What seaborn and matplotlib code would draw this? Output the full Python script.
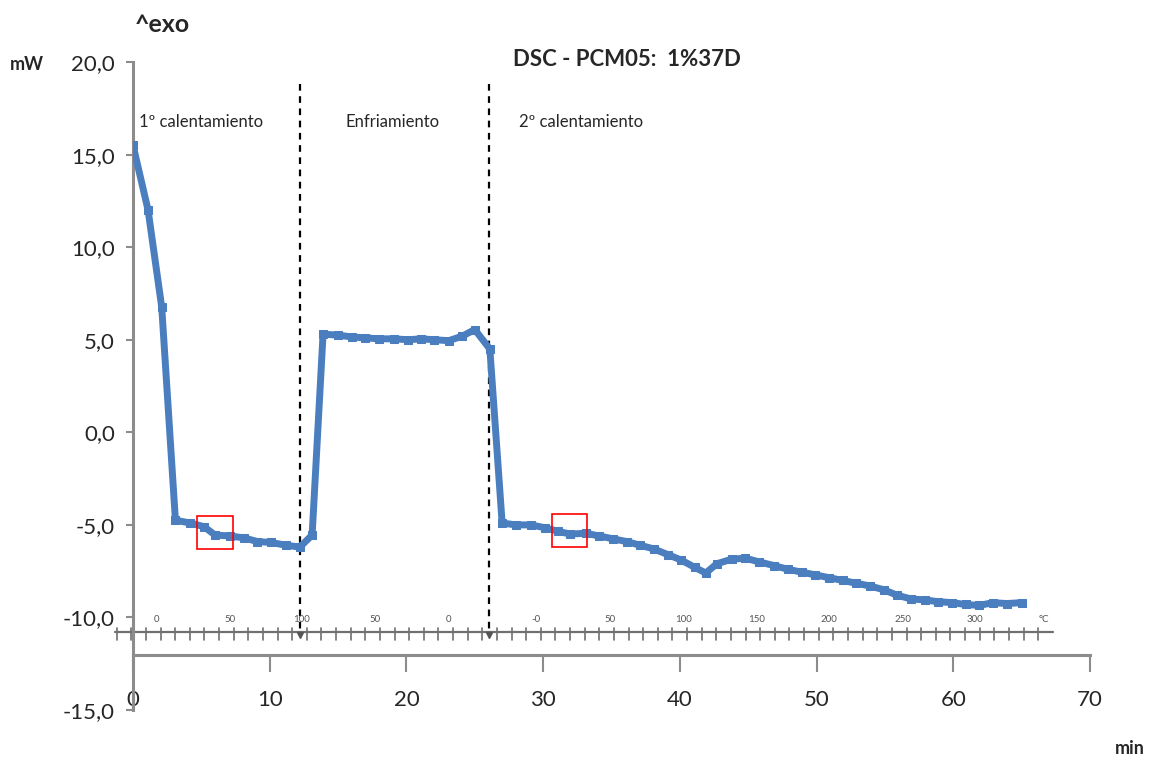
import numpy as np
import pandas as pd
import matplotlib
matplotlib.use("Agg")
import matplotlib.pyplot as plt
import matplotlib.patches as mpatches
from matplotlib.ticker import FuncFormatter
import seaborn as sns

# ---- data ----
time_min = [0.0, 1.1, 2.1, 3.1, 4.2, 5.2, 6.0, 7.1, 8.1, 9.1, 10.1, 11.2, 12.2,
            13.1, 13.9, 15.0, 16.0, 17.0, 18.0, 19.1, 20.1, 21.1, 22.0, 23.1,
            24.1, 25.0, 26.1, 27.0, 28.0, 29.1, 30.1, 31.1, 32.0, 33.1, 34.1,
            35.1, 36.1, 37.1, 38.1, 39.1, 40.1, 41.1, 41.9, 42.7, 43.8, 44.8,
            45.8, 46.9, 47.9, 48.9, 49.9, 50.9, 51.9, 52.9, 53.9, 54.9, 55.9,
            56.9, 57.9, 58.9, 59.9, 60.9, 61.9, 62.9, 63.9, 65.0]
heat_flow_mW = [15.5, 12.0, 6.75, -4.75, -4.9, -5.1, -5.55, -5.6, -5.7, -5.9,
                -5.95, -6.1, -6.2, -5.55, 5.3, 5.25, 5.15, 5.1, 5.05, 5.05, 5.0,
                5.05, 5.0, 4.95, 5.2, 5.55, 4.5, -4.9, -5.0, -5.0, -5.15, -5.35,
                -5.5, -5.45, -5.6, -5.75, -5.9, -6.1, -6.3, -6.6, -6.9, -7.3,
                -7.6, -7.1, -6.85, -6.8, -7.0, -7.2, -7.4, -7.55, -7.7, -7.85,
                -8.0, -8.15, -8.3, -8.5, -8.8, -9.0, -9.05, -9.15, -9.2, -9.3,
                -9.35, -9.2, -9.25, -9.2]

y_ticks = [-15, -10, -5, 0, 5, 10, 15, 20]
x_ticks = [0, 10, 20, 30, 40, 50, 60, 70]
phase_bounds = [12.2, 26.05]
phase_labels = ["1º calentamiento", "Enfriamiento", "2º calentamiento"]
temp_labels = ["0", "50", "100", "50", "0", "-0", "50", "100", "150", "200",
               "250", "300", "°C"]
temp_label_pos = [1.75, 7.1, 12.3, 17.7, 23.1, 29.5, 34.9, 40.3, 45.6, 50.9,
                  56.3, 61.6, 66.6]

df = pd.DataFrame({"min": time_min, "mW": heat_flow_mW})

sns.set_style("white")
plt.rcParams["font.family"] = ["Lato", "DejaVu Sans"]

fig = plt.figure(figsize=(11.68, 7.62), dpi=100)
ax = fig.add_axes([0.1139, 0.0682, 0.8193, 0.8504])

blue = "#4A7EBF"
sns.lineplot(data=df, x="min", y="mW", ax=ax, color=blue, linewidth=5,
             marker="s", markersize=6, markeredgecolor=blue,
             markerfacecolor=blue, zorder=3)

ax.set_xlim(0, 70)
ax.set_ylim(-15, 20)
ax.set_xticks(x_ticks)
ax.set_yticks(y_ticks)
ax.yaxis.set_major_formatter(FuncFormatter(lambda v, p: f"{v:.1f}".replace(".", ",")))
ax.set_xlabel("")
ax.set_ylabel("")

for s in ["top", "right"]:
    ax.spines[s].set_visible(False)
ax.spines["bottom"].set_position(("data", -12.05))
ax.spines["bottom"].set_bounds(0, 70)
ax.spines["left"].set_bounds(-15, 20)
for s in ["bottom", "left"]:
    ax.spines[s].set_color("#8C8C8C")
    ax.spines[s].set_linewidth(2.2)

ax.tick_params(axis="x", direction="out", length=12, width=1.5, color="#8C8C8C",
               labelsize=16, pad=13, bottom=True)
ax.tick_params(axis="y", direction="out", length=5, width=1.5, color="#8C8C8C",
               labelsize=16, pad=8, left=True)

# temperature sub-axis (embedded scale)
ax.plot([-1.3, 67.3], [-10.8, -10.8], color="#707070", lw=1.6, clip_on=False, zorder=2)
minor = np.arange(-1.2, 67.0, 1.07)
for m in minor:
    ax.plot([m, m], [-10.55, -11.2], color="#707070", lw=1.2, clip_on=False, zorder=2)
for lab, pos in zip(temp_labels, temp_label_pos):
    ax.text(pos, -10.1, lab, fontsize=7, color="#555555", ha="center", va="center")

# phase separators
for xb in phase_bounds:
    ax.plot([xb, xb], [18.8, -10.8], color="black", lw=1.6, ls=(0, (3, 2.5)), zorder=2)
    ax.plot(xb, -10.95, marker="v", color="#555555", markersize=5, zorder=2)

ax.text(0.4, 16.75, phase_labels[0], fontsize=12, ha="left", va="center")
ax.text(19.0, 16.75, phase_labels[1], fontsize=12, ha="center", va="center")
ax.text(28.2, 16.75, phase_labels[2], fontsize=12, ha="left", va="center")

# red highlight boxes
ax.add_patch(mpatches.Rectangle((4.67, -6.32), 2.63, 1.78, fill=False,
                                edgecolor="red", lw=1.2, zorder=4))
ax.add_patch(mpatches.Rectangle((30.66, -6.22), 2.55, 1.79, fill=False,
                                edgecolor="red", lw=1.2, zorder=4))

# texts
fig.text(627 / 1168, 1 - 60 / 762, "DSC - PCM05:  1%37D", fontsize=16,
         fontweight="bold", ha="center", va="center")
fig.text(135 / 1168, 1 - 25 / 762, "^exo", fontsize=18, fontweight="bold",
         ha="left", va="center")
fig.text(10 / 1168, 1 - 64 / 762, "mW", fontsize=13, fontweight="bold",
         ha="left", va="center")
fig.text(1115 / 1168, 1 - 748 / 762, "min", fontsize=13, fontweight="bold",
         ha="left", va="center")

fig.savefig("out.png", dpi=100)
